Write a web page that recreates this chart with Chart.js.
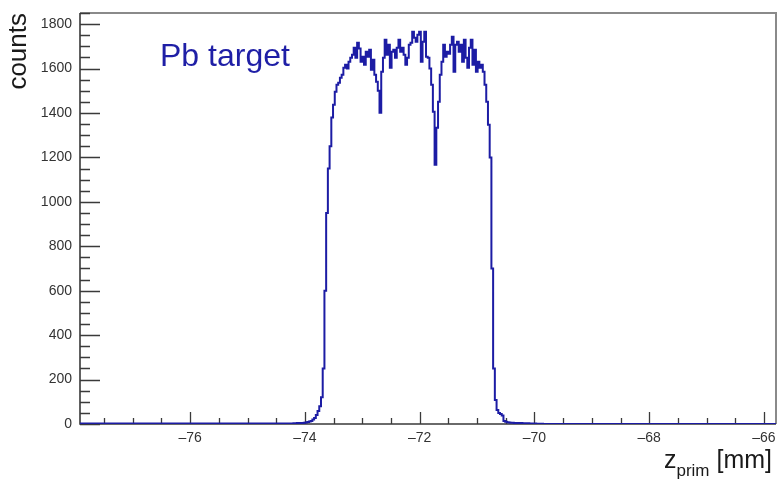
<!DOCTYPE html>
<html>
<head>
<meta charset="utf-8">
<script src="https://cdn.jsdelivr.net/npm/chart.js@4.4.0/dist/chart.umd.min.js"></script>
<style>
  html, body { margin: 0; padding: 0; background: #fff; }
  #wrap { width: 779px; height: 485px; position: relative; }
</style>
</head>
<body>
<div id="wrap"><canvas id="zChart"></canvas></div>
<script>
// histogram binning (mm)
const binStart = -74.2;
const binWidth = 0.03;
const counts = [
  2, 3, 2, 4, 3, 5, 4, 6, 7, 9,
  11, 14, 20, 27, 40, 58, 80, 120, 250, 600,
  950, 1150, 1250, 1380, 1437, 1496, 1527, 1536, 1559, 1572,
  1604, 1617, 1600, 1631, 1649, 1662, 1694, 1649, 1716, 1690,
  1631, 1653, 1617, 1676, 1653, 1685, 1595, 1640, 1572, 1540,
  1500, 1401, 1586, 1649, 1730, 1662, 1707, 1604, 1676, 1685,
  1649, 1694, 1730, 1676, 1694, 1662, 1617, 1649, 1707, 1716,
  1766, 1739, 1721, 1752, 1766, 1631, 1721, 1766, 1653, 1649,
  1600, 1527, 1405, 1167, 1333, 1451, 1572, 1631, 1707, 1653,
  1676, 1667, 1707, 1743, 1586, 1707, 1721, 1676, 1707, 1631,
  1730, 1649, 1604, 1694, 1730, 1617, 1685, 1586, 1631, 1604,
  1617, 1586, 1527, 1451, 1347, 1200, 700, 250, 108, 63,
  50, 45, 38, 14, 10, 8, 7, 6, 6, 5,
  5, 4, 4, 4, 3, 3, 3, 3, 2, 2,
  2, 2, 1, 1, 1, 1, 0
];

const xRange = [-77.92, -65.79];
const yRange = [0, 1850];
const xTicks = [-76, -74, -72, -70, -68, -66];
const yTicks = [0, 200, 400, 600, 800, 1000, 1200, 1400, 1600, 1800];
const xMinorStep = 0.5;
const yMinorStep = 50;

// stepped points at the bin edges, flat zero outside the filled range
const points = [{ x: xRange[0], y: 0 }];
counts.forEach((c, i) => points.push({ x: binStart + i * binWidth, y: c }));
points.push({ x: binStart + counts.length * binWidth, y: 0 });
points.push({ x: xRange[1], y: 0 });

const FONT = "'Liberation Sans', Arial, Helvetica, sans-serif";

// ROOT-like frame: inward major/minor ticks, grey box, axis titles
const framePlugin = {
  id: 'rootFrame',
  beforeDatasetsDraw(chart) {
    const { ctx, chartArea: a, scales: { x, y } } = chart;
    ctx.save();

    // top / right frame
    ctx.strokeStyle = '#8a8a8a';
    ctx.lineWidth = 2;
    ctx.beginPath();
    ctx.moveTo(a.left, a.top);
    ctx.lineTo(a.right, a.top);
    ctx.lineTo(a.right, a.bottom);
    ctx.stroke();

    // left / bottom axes
    ctx.strokeStyle = '#3a3a3a';
    ctx.lineWidth = 1.6;
    ctx.beginPath();
    ctx.moveTo(a.left, a.top);
    ctx.lineTo(a.left, a.bottom);
    ctx.lineTo(a.right, a.bottom);
    ctx.stroke();

    ctx.lineWidth = 1.3;
    ctx.beginPath();
    for (let v = yRange[0]; v <= yRange[1] + 1e-6; v += yMinorStep) {
      const py = Math.round(y.getPixelForValue(v)) + 0.5;
      const major = yTicks.includes(v);
      ctx.moveTo(a.left, py);
      ctx.lineTo(a.left + (major ? 20 : 10), py);
    }
    const x0 = Math.ceil(xRange[0] / xMinorStep) * xMinorStep;
    for (let v = x0; v <= xRange[1] + 1e-6; v += xMinorStep) {
      const px = Math.round(x.getPixelForValue(v)) + 0.5;
      const major = xTicks.some(t => Math.abs(t - v) < 1e-6);
      ctx.moveTo(px, a.bottom);
      ctx.lineTo(px, a.bottom - (major ? 12 : 6));
    }
    ctx.stroke();
    ctx.restore();
  },
  afterDraw(chart) {
    const { ctx, chartArea: a } = chart;
    ctx.save();

    // y title
    ctx.fillStyle = '#1a1a1a';
    ctx.font = '26px ' + FONT;
    ctx.save();
    ctx.translate(26, a.top);
    ctx.rotate(-Math.PI / 2);
    ctx.textAlign = 'right';
    ctx.textBaseline = 'alphabetic';
    ctx.fillText('counts', 0, 0);
    ctx.restore();

    // x title with subscript, right aligned
    const big = '25px ' + FONT, small = '17px ' + FONT;
    ctx.textBaseline = 'alphabetic';
    ctx.textAlign = 'left';
    ctx.font = big;
    const wz = ctx.measureText('z').width;
    const wt = ctx.measureText(' [mm]').width;
    ctx.font = small;
    const ws = ctx.measureText('prim').width;
    let tx = 772 - (wz + ws + wt);
    const base = 468;
    ctx.font = big;
    ctx.fillText('z', tx, base);
    tx += wz;
    ctx.font = small;
    ctx.fillText('prim', tx, base + 8);
    tx += ws;
    ctx.font = big;
    ctx.fillText(' [mm]', tx, base);

    // target label
    ctx.fillStyle = '#1f1fa6';
    ctx.font = '32px ' + FONT;
    ctx.fillText('Pb target', 160, 66);

    ctx.restore();
  }
};

new Chart(document.getElementById('zChart'), {
  type: 'line',
  data: {
    datasets: [{
      data: points,
      stepped: 'after',
      borderColor: '#1c1ca4',
      borderWidth: 2,
      pointRadius: 0,
      fill: false
    }]
  },
  options: {
    responsive: true,
    maintainAspectRatio: false,
    animation: false,
    layout: { padding: { top: 13, right: 3, left: 0, bottom: 0 } },
    plugins: { legend: { display: false }, tooltip: { enabled: false } },
    scales: {
      x: {
        type: 'linear',
        min: xRange[0],
        max: xRange[1],
        afterBuildTicks: s => { s.ticks = xTicks.map(v => ({ value: v })); },
        afterFit: s => { s.height = 61; s.paddingLeft = 0; s.paddingRight = 0; },
        grid: { display: false, drawTicks: false },
        border: { display: false },
        ticks: {
          padding: 6,
          color: '#333',
          font: { family: FONT, size: 14 },
          callback: v => (v < 0 ? '\u2013' : '') + Math.abs(v)
        }
      },
      y: {
        min: yRange[0],
        max: yRange[1],
        afterBuildTicks: s => { s.ticks = yTicks.map(v => ({ value: v })); },
        afterFit: s => { s.width = 80; s.paddingTop = 0; s.paddingBottom = 0; },
        grid: { display: false, drawTicks: false },
        border: { display: false },
        ticks: {
          padding: 8,
          color: '#333',
          font: { family: FONT, size: 14 },
          callback: v => String(v)
        }
      }
    }
  },
  plugins: [framePlugin]
});
</script>
</body>
</html>
